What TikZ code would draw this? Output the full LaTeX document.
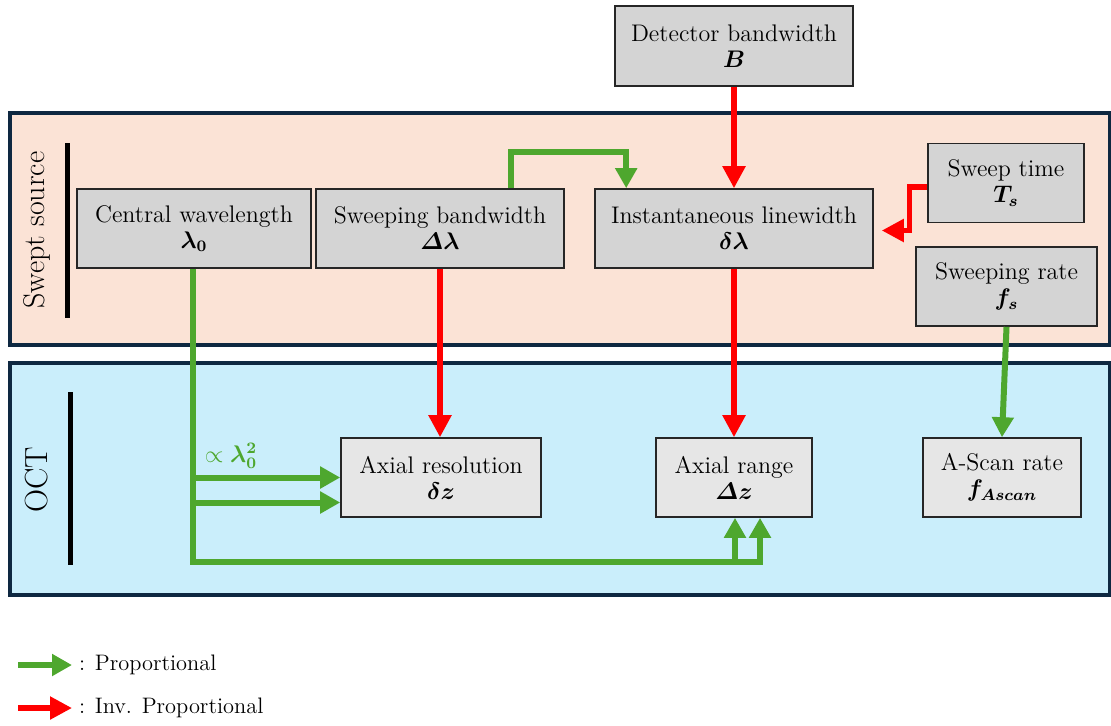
\documentclass[tikz,border=0pt]{standalone}
\usepackage{amsmath}
\usepackage{bm}
\usetikzlibrary{arrows.meta}
\definecolor{pgreen}{HTML}{4EA72E}
\definecolor{pred}{HTML}{FF0000}
\definecolor{navy}{HTML}{0E2841}
\definecolor{peach}{HTML}{FBE3D6}
\definecolor{skyb}{HTML}{CAEEFB}
\definecolor{boxg}{HTML}{D4D4D4}
\definecolor{boxl}{HTML}{E6E6E6}
\tikzset{
	box/.style={draw=black!85, line width=0.8pt, fill=boxg, align=center, inner sep=0pt,
		minimum height=39.5pt, font=\fontsize{12}{13}\selectfont},
	lbox/.style={box, fill=boxl},
	panel/.style={draw=navy, line width=1.6pt},
	prop/.style={draw=pgreen, line width=3pt, -{Triangle[width=10.5pt,length=10pt]}},
	inv/.style={draw=pred, line width=2.6pt, -{Triangle[width=11pt,length=11pt]}}
}
\begin{document}
\begin{tikzpicture}[x=0.5pt,y=-0.5pt]
\useasboundingbox (0,0) rectangle (1111,725);

% panels
\draw[panel, fill=peach] (10,113) rectangle (1110,345);
\draw[panel, fill=skyb] (10,363) rectangle (1110,595);
\draw[line width=2.5pt] (67,143) -- (67,318);
\draw[line width=2.5pt] (70,392) -- (70,565);
\node[rotate=90, font=\fontsize{15}{15}\selectfont] (ssrc) at (37,230) {Swept source};
\node[rotate=90, font=\fontsize{16}{16}\selectfont] (oct) at (37,480) {OCT};

% boxes
\node[box, minimum width=119pt, minimum height=40pt] (dbw) at (734,46) {Detector bandwidth\\ $\bm{B}$};
\node[box, minimum width=117pt] (cwl) at (194,228.5) {Central wavelength\\ $\bm{\lambda_0}$};
\node[box, minimum width=124pt] (swbw) at (440,228.5) {Sweeping bandwidth\\ $\bm{\varDelta\lambda}$};
\node[box, minimum width=139pt] (ilw) at (734,228.5) {Instantaneous linewidth\\ $\bm{\delta\lambda}$};
\node[box, minimum width=78pt] (stime) at (1006,183) {Sweep time\\ $\bm{T_s}$};
\node[box, minimum width=90.5pt] (srate) at (1006.5,286.5) {Sweeping rate\\ $\bm{f_s}$};
\node[lbox, minimum width=100pt] (axres) at (441,477.5) {Axial resolution\\ $\bm{\delta z}$};
\node[lbox, minimum width=78pt] (axrng) at (734,477.5) {Axial range\\ $\bm{\varDelta z}$};
\node[lbox, minimum width=79pt] (ascan) at (1002,477.5) {A-Scan rate\\ $\bm{f_{Ascan}}$};

% inverse
\draw[inv] (dbw.south) -- (dbw.south |- ilw.north);
\draw[inv] ([yshift=-2pt]stime.west) -- ++(-18,0) |- ([xshift=4pt,yshift=-1pt]ilw.east);
\draw[inv] (swbw.south) -- (swbw.south |- axres.north);
\draw[inv] (ilw.south) -- (ilw.south |- axrng.north);

% proportional
\draw[prop] ([xshift=35.5pt]swbw.north) -- ++(0,-36) -| ([xshift=16pt]ilw.north west);
\draw[prop] (srate.south) -- (ascan.north);
\coordinate (bend) at (193,562);
\draw[prop] (cwl.south -| bend) -- (bend) -| ([xshift=13pt]axrng.south);
\draw[prop] ([xshift=0.5pt]axrng.south |- bend) -- ([xshift=0.5pt]axrng.south);
\draw[prop] (bend |- axres.west) -- (axres.west);
\draw[prop] ([yshift=-12.5pt]bend |- axres.west) -- ([yshift=-12.5pt]axres.west);
\node[text=pgreen, font=\fontsize{12}{12}\selectfont] (sq) at (231,456) {$\propto\bm{\lambda_0^2}$};

% legend
\foreach \y/\s/\t/\n in {665/prop/Proportional/lgp,708/inv/Inv. Proportional/lgi}
{
	\coordinate (\n a) at (18,\y);
	\node[anchor=west, font=\fontsize{11.2}{12}\selectfont] (\n) at (72,\y) {: \t};
	\draw[\s] (\n a) -- (\n.west);
}
\end{tikzpicture}
\end{document}
